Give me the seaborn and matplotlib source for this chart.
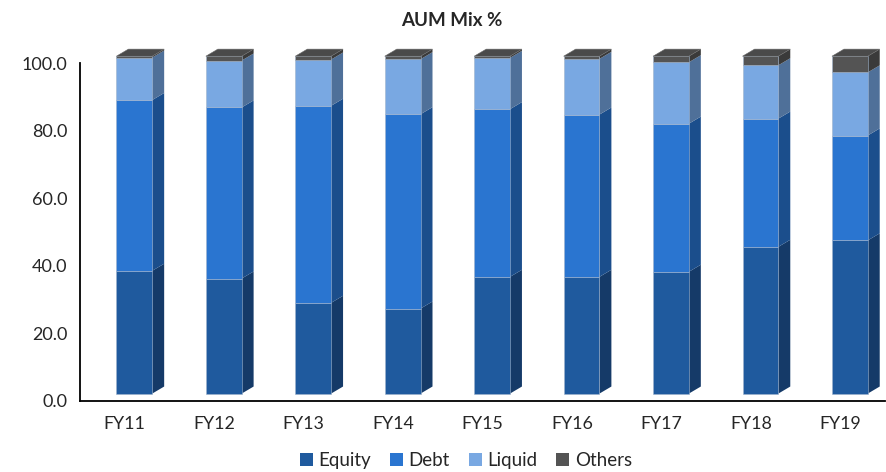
import matplotlib
matplotlib.use("Agg")
from matplotlib import pyplot as plt
from matplotlib.patches import Patch, Polygon
import pandas as pd
import seaborn as sns

years = ["FY11", "FY12", "FY13", "FY14", "FY15", "FY16", "FY17", "FY18", "FY19"]
equity = [36.4, 34.1, 26.9, 25.2, 34.6, 34.6, 36.1, 43.5, 45.4]
debt = [50.6, 50.7, 58.4, 57.6, 49.7, 48.1, 43.9, 38.0, 31.1]
liquid = [12.6, 13.9, 13.7, 16.3, 15.2, 16.5, 18.2, 15.8, 18.7]
others = [0.4, 1.3, 1.0, 0.9, 0.5, 0.8, 1.8, 2.7, 4.8]
series = ["Equity", "Debt", "Liquid", "Others"]
y_ticks = [0, 20, 40, 60, 80, 100]

front_colors = ["#1f5a9e", "#2a75d0", "#79a8e2", "#545454"]
side_colors = ["#153a68", "#1b4e8c", "#4f7099", "#3a3a3a"]
top_color = "#4a4a4a"

# fake 3d look (Excel style): front face lifted and shifted, side + top faces
lift = 2.1
dx, dy = 0.134, 2.1
shift = 0.107
width = 0.40


def main():
    df = pd.DataFrame({"year": years, "Equity": equity, "Debt": debt,
                       "Liquid": liquid, "Others": others})

    sns.set_style("white")
    plt.rcParams["font.family"] = ["Lato", "DejaVu Sans"]

    fig, ax = plt.subplots(figsize=(8.87, 4.72), dpi=100)
    fig.subplots_adjust(left=80 / 887, right=885 / 887,
                        bottom=1 - 400.7 / 472, top=1 - 63.3 / 472)

    bottom = pd.Series([lift] * len(years))
    tops = None
    for name, fc, sc in zip(series, front_colors, side_colors):
        sns.barplot(data=df, x="year", y=name, bottom=bottom.values,
                    color=fc, width=width, saturation=1, ax=ax,
                    edgecolor="#9fb3cc", linewidth=0.4, zorder=3)
        bars = ax.containers[-1]
        for p in bars:
            p.set_clip_on(False)
            p.set_x(p.get_x() + shift)
            x1 = p.get_x() + p.get_width()
            y0, y1 = p.get_y(), p.get_y() + p.get_height()
            side = Polygon([(x1, y0), (x1 + dx, y0 + dy), (x1 + dx, y1 + dy),
                            (x1, y1)], closed=True, facecolor=sc,
                           edgecolor="none", zorder=2, clip_on=False)
            ax.add_patch(side)
        bottom = bottom + df[name]
        tops = bars

    for p in tops:
        x0, x1 = p.get_x(), p.get_x() + p.get_width()
        y1 = p.get_y() + p.get_height()
        top = Polygon([(x0, y1), (x0 + dx, y1 + dy), (x1 + dx, y1 + dy),
                       (x1, y1)], closed=True, facecolor=top_color,
                      edgecolor="#6a6a6a", linewidth=0.4, zorder=4,
                      clip_on=False)
        ax.add_patch(top)

    ax.set_xlim(-0.5, len(years) - 0.5)
    ax.set_ylim(0, 100)
    ax.set_yticks(y_ticks)
    ax.set_yticklabels([f"{v:.1f}" for v in y_ticks], fontsize=13)
    ax.set_xticks(range(len(years)))
    ax.set_xticklabels(years, fontsize=12.8)
    ax.set_xticks([i + 0.5 for i in range(len(years))], minor=True)
    ax.tick_params(axis="x", which="major", length=0, pad=11)
    ax.tick_params(axis="x", which="minor", length=7, width=1.2,
                   direction="inout", color="black")
    ax.tick_params(axis="y", length=5, width=1.2, direction="out",
                   color="black", pad=4)
    ax.set_xlabel("")
    ax.set_ylabel("")
    sns.despine(ax=ax)
    for s in ["left", "bottom"]:
        ax.spines[s].set_color("black")
        ax.spines[s].set_linewidth(1.3)

    fig.text(452 / 887, 1 - 21 / 472, "AUM Mix %", ha="center", va="center",
             fontsize=13.5, fontweight="bold")

    handles = [Patch(facecolor=c, edgecolor="none") for c in front_colors]
    fig.legend(handles, series, loc="lower center",
               bbox_to_anchor=(466 / 887, -0.03), ncol=4, frameon=False,
               fontsize=13.5, handlelength=0.7, handleheight=0.7,
               handletextpad=0.3, columnspacing=1.0)

    fig.savefig("out.png", dpi=100)


if __name__ == "__main__":
    main()
